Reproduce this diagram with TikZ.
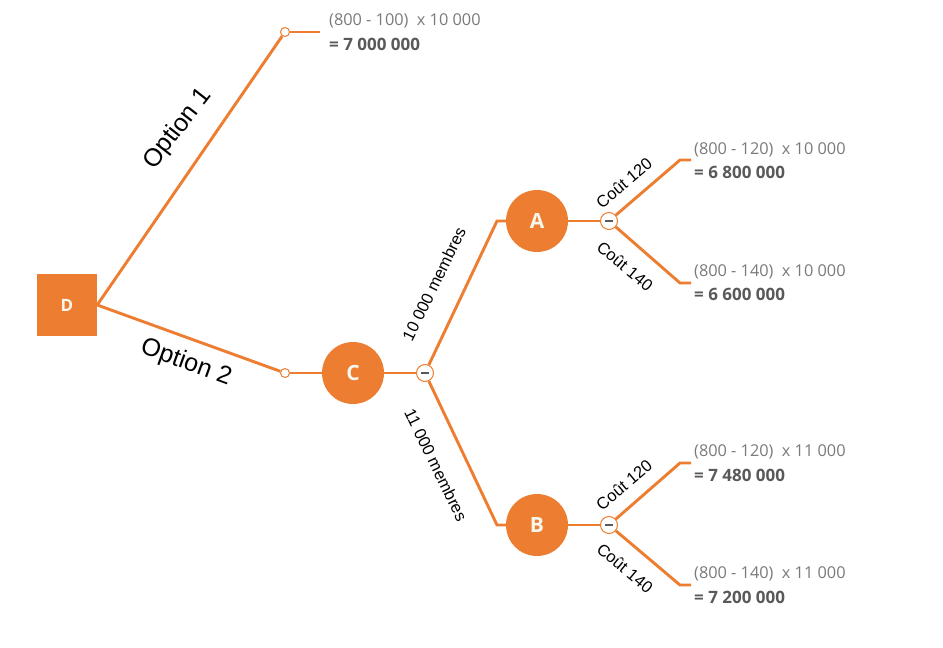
\documentclass[tikz,border=0pt]{standalone}
\usepackage{fontspec}
\setmainfont{Open Sans}
\newfontfamily\arialf{Liberation Sans}
\definecolor{org}{HTML}{ED7D31}
\definecolor{txtg}{HTML}{7A7A7A}
\definecolor{txtd}{HTML}{595959}
\definecolor{ltr}{HTML}{F4F8EC}
\begin{document}
\begin{tikzpicture}[x=1pt,y=-1pt,
  br/.style={draw=org,line width=2.9pt},
  sq/.style={fill=org,minimum width=60pt,minimum height=62pt,inner sep=0pt,text=ltr,font=\bfseries\fontsize{17}{19}\selectfont},
  chance/.style={circle,fill=org,minimum size=62pt,inner sep=0pt,text=ltr,font=\bfseries\fontsize{21}{23}\selectfont},
  dot/.style={circle,draw=org,fill=white,line width=1pt,minimum size=9pt,inner sep=0pt},
  minus/.style={circle,draw=org,fill=white,line width=1pt,minimum size=17pt,inner sep=0pt,
    path picture={\draw[txtd,line width=1.3pt] ([xshift=-4pt]path picture bounding box.center) -- ([xshift=4pt]path picture bounding box.center);}},
  lab/.style={font=\arialf\fontsize{25}{27}\selectfont},
  slab/.style={font=\arialf\fontsize{16.5}{18}\selectfont},
  calc/.style={anchor=west,inner sep=0pt,text=txtg,font=\fontsize{16.3}{18}\selectfont},
  res/.style={anchor=west,inner sep=0pt,text=txtd,font=\bfseries\fontsize{17}{19}\selectfont}]
\useasboundingbox (0,0) rectangle (943,648);
% decision node
\node[sq] (D) at (67,305) {D};
% option 1
\node[dot] (d1) at (285,32) {};
\coordinate (e1) at (320,32);
\draw[br] (D.east) -- (d1);
\draw[br] (d1) -- (e1);
\node[lab,rotate=52] (o1) at (178,129) {Option 1};
\node[calc] (t1) at (329,21) {(800 - 100)\ \ x 10 000};
\node[res] (r1) at (329,44) {= 7 000 000};
% option 2
\node[dot] (d2) at (285,373) {};
\node[chance] (C) at (353,373) {C};
\draw[br] (D.east) -- (d2);
\draw[br] (d2) -- (C);
\node[lab,rotate=-20] (o2) at (186,363) {Option 2};
\node[minus] (mC) at (425,373) {};
\draw[br] (C) -- (mC);
% A branch
\coordinate (bA) at (497,221);
\node[chance] (A) at (537,221) {A};
\draw[br] (mC) -- (bA) -- (A);
\node[slab,rotate=64] (l10) at (434,284) {10 000 membres};
% B branch
\coordinate (bB) at (497,525);
\node[chance] (B) at (537,525) {B};
\draw[br] (mC) -- (bB) -- (B);
\node[slab,rotate=-64] (l11) at (436,465) {11 000 membres};
% A outcomes
\node[minus] (mA) at (609,221) {};
\draw[br] (A) -- (mA);
\coordinate (a1) at (680,160); \coordinate (a1e) at (691,160);
\coordinate (a2) at (680,283); \coordinate (a2e) at (691,283);
\draw[br] (mA) -- (a1) -- (a1e);
\draw[br] (mA) -- (a2) -- (a2e);
\node[slab,rotate=40] (ca1) at (624,183) {Coût 120};
\node[slab,rotate=-40] (ca2) at (625,266) {Coût 140};
\node[calc] (t2) at (694,150) {(800 - 120)\ \ x 10 000};
\node[res] (r2) at (694,172) {= 6 800 000};
\node[calc] (t3) at (694,272) {(800 - 140)\ \ x 10 000};
\node[res] (r3) at (694,294) {= 6 600 000};
% B outcomes
\node[minus] (mB) at (609,525) {};
\draw[br] (B) -- (mB);
\coordinate (b1) at (680,463); \coordinate (b1e) at (691,463);
\coordinate (b2) at (680,585); \coordinate (b2e) at (691,585);
\draw[br] (mB) -- (b1) -- (b1e);
\draw[br] (mB) -- (b2) -- (b2e);
\node[slab,rotate=40] (cb1) at (624,485) {Coût 120};
\node[slab,rotate=-40] (cb2) at (625,568) {Coût 140};
\node[calc] (t4) at (694,452) {(800 - 120)\ \ x 11 000};
\node[res] (r4) at (694,475) {= 7 480 000};
\node[calc] (t5) at (694,574) {(800 - 140)\ \ x 11 000};
\node[res] (r5) at (694,597) {= 7 200 000};
\end{tikzpicture}
\end{document}
